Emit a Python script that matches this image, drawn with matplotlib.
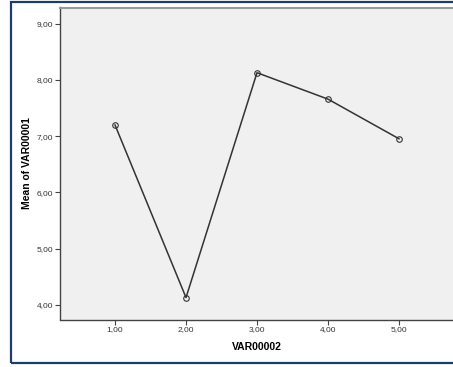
import matplotlib
matplotlib.use("Agg")
import matplotlib.pyplot as plt
from matplotlib.patches import Rectangle

# values
var2 = [1.0, 2.0, 3.0, 4.0, 5.0]
mean_var1 = [7.20, 4.13, 8.13, 7.66, 6.955]
xticks = [1, 2, 3, 4, 5]
yticks = [4, 5, 6, 7, 8, 9]


def comma(v):
    return f"{v:.2f}".replace(".", ",")


plt.rcParams["font.family"] = ["Liberation Sans", "DejaVu Sans"]

W, H = 453, 367
fig = plt.figure(figsize=(W / 100, H / 100), dpi=100)
fig.patch.set_facecolor("white")

# axes placed in pixel terms: left 60, right ~454, top 7.5, bottom 319.5
left, right, top, bottom = 60, 454, 7.5, 319.5
ax = fig.add_axes([left / W, 1 - bottom / H, (right - left) / W, (bottom - top) / H])
ax.set_facecolor("#f0f0f0")

ax.plot(var2, mean_var1, color="#333333", linewidth=1.1,
        marker="o", markersize=4, markerfacecolor="none",
        markeredgecolor="#333333", markeredgewidth=0.8, zorder=3)

ax.set_xlim(0.225, 5.775)
ax.set_ylim(3.74, 9.29)
ax.set_xticks(xticks)
ax.set_xticklabels([comma(v) for v in xticks])
ax.set_yticks(yticks)
ax.set_yticklabels([comma(v) for v in yticks])
ax.tick_params(axis="both", direction="out", length=3.5, width=0.8,
               color="#444444", labelsize=6, labelcolor="#333333", pad=1.5)

for s in ("left", "bottom"):
    ax.spines[s].set_color("#444444")
    ax.spines[s].set_linewidth(1.0)
ax.spines["top"].set_color("#9a9a9a")
ax.spines["top"].set_linewidth(1.5)
ax.spines["right"].set_visible(False)

ax.set_xlabel("VAR00002", fontsize=7.5, fontweight="bold", labelpad=6)
ax.set_ylabel("Mean of VAR00001", fontsize=7.5, fontweight="bold", labelpad=3)

# outer dark blue frame (right side runs off the image)
frame = Rectangle((10.5 / W, 1 - 362.5 / H), 1.0, (362.5 - 2) / H,
                  transform=fig.transFigure, fill=False,
                  edgecolor="#1f3d6b", linewidth=1.6, clip_on=False)
fig.patches.append(frame)

fig.savefig("out.png", dpi=100)
